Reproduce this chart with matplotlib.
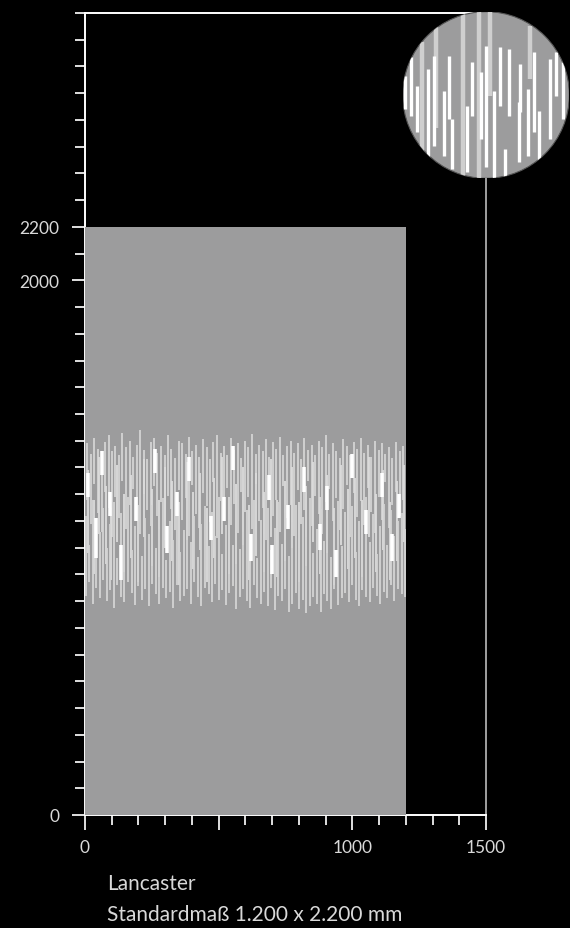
import matplotlib
matplotlib.use("Agg")
import matplotlib.pyplot as plt
from matplotlib.patches import Rectangle, Circle


# =========================
# DATA
# =========================
panel_width = 1200
panel_height = 2200

x_labels = {0: "0", 1000: "1000", 1500: "1500"}
y_labels = {0: "0", 2000: "2000", 2200: "2200"}

title = "Lancaster"
subtitle = "Standardmaß 1.200 x 2.200 mm"

# texture strokes, upper band (x, top, bottom)
up_x = [8, 22, 35, 47, 62, 74, 88, 101, 113, 128, 140, 155, 167, 180, 194, 206, 219, 233, 246, 258,
        271, 285, 298, 311, 323, 337, 350, 364, 376, 389, 402, 416, 428, 441, 455, 468, 480, 494, 507, 519,
        533, 546, 559, 572, 585, 598, 611, 625, 638, 650, 664, 677, 690, 703, 716, 729, 742, 756, 769, 782,
        795, 808, 821, 835, 848, 861, 874, 887, 900, 914, 927, 940, 953, 966, 979, 993, 1006, 1019, 1032, 1045,
        1058, 1071, 1085, 1098, 1111, 1124, 1137, 1150, 1163, 1177, 1190]
up_top = [1390, 1350, 1410, 1370, 1335, 1395, 1420, 1360, 1380, 1345, 1430, 1375, 1400, 1340, 1385, 1440, 1365, 1330, 1395, 1410,
          1355, 1380, 1345, 1420, 1370, 1335, 1400, 1390, 1350, 1415, 1360, 1385, 1340, 1405, 1375, 1330, 1395, 1420, 1355, 1380,
          1345, 1410, 1365, 1390, 1335, 1400, 1375, 1425, 1350, 1385, 1360, 1405, 1340, 1395, 1370, 1415, 1345, 1380, 1400, 1355,
          1390, 1330, 1410, 1365, 1385, 1345, 1400, 1375, 1420, 1350, 1390, 1360, 1335, 1405, 1380, 1345, 1395, 1370, 1410, 1355,
          1385, 1340, 1400, 1365, 1390, 1350, 1375, 1335, 1395, 1360, 1380]
up_bot = [1180, 1090, 1240, 1130, 1060, 1210, 1150, 1040, 1190, 1110, 1250, 1070, 1160, 1220, 1100, 1050, 1200, 1140, 1080, 1230,
          1120, 1170, 1030, 1195, 1145, 1065, 1215, 1105, 1185, 1045, 1235, 1125, 1075, 1205, 1155, 1095, 1245, 1035, 1175, 1115,
          1225, 1085, 1165, 1055, 1210, 1135, 1190, 1070, 1240, 1100, 1150, 1030, 1200, 1120, 1180, 1060, 1230, 1110, 1160, 1045,
          1215, 1090, 1140, 1250, 1080, 1195, 1125, 1050, 1170, 1220, 1100, 1185, 1065, 1145, 1235, 1040, 1205, 1115, 1175, 1085,
          1225, 1135, 1055, 1190, 1105, 1245, 1075, 1160, 1210, 1120, 1180]

# texture strokes, middle
mid_x = [10, 33, 52, 78, 99, 118, 145, 171, 198, 222, 249, 275, 301, 326, 353, 380, 405, 431, 458, 484,
         511, 537, 563, 590, 615, 641, 668, 694, 720, 747, 773, 799, 826, 852, 878, 905, 931, 957, 984, 1010,
         1036, 1063, 1089, 1115, 1142, 1168, 1193]
mid_top = [1290, 1180, 1340, 1230, 1150, 1310, 1200, 1270, 1160, 1330, 1220, 1180, 1300, 1250, 1170, 1320, 1210, 1280, 1150, 1260,
           1340, 1190, 1240, 1300, 1160, 1280, 1210, 1330, 1180, 1250, 1300, 1170, 1230, 1320, 1190, 1270, 1150, 1310, 1220, 1260,
           1180, 1340, 1200, 1290, 1170, 1250, 1310]
mid_bot = [980, 900, 1050, 940, 880, 1020, 910, 960, 870, 1040, 930, 890, 1000, 950, 860, 1030, 920, 990, 870, 960,
           1050, 900, 940, 1010, 880, 970, 910, 1040, 890, 950, 1000, 870, 930, 1020, 900, 980, 860, 1010, 920, 960,
           890, 1040, 910, 990, 880, 950, 1020]

# texture strokes, lower band
lo_x = [3, 15, 29, 41, 55, 68, 81, 95, 107, 121, 134, 147, 161, 174, 187, 200, 213, 226, 240, 252,
        265, 278, 292, 304, 317, 330, 344, 357, 370, 383, 396, 409, 422, 435, 448, 462, 474, 487, 501, 513,
        526, 540, 553, 566, 579, 592, 605, 618, 631, 644, 657, 671, 684, 697, 710, 723, 736, 749, 762, 775,
        789, 802, 815, 828, 841, 854, 867, 881, 894, 907, 920, 933, 946, 960, 973, 986, 999, 1012, 1025, 1038,
        1052, 1065, 1078, 1091, 1104, 1117, 1131, 1144, 1157, 1170, 1184, 1196]
lo_top = [1120, 1010, 1180, 980, 1060, 1150, 1000, 1090, 1170, 960, 1130, 1040, 1190, 990, 1080, 1140, 970, 1110, 1050, 1160,
          1000, 1070, 1185, 955, 1100, 1030, 1145, 985, 1065, 1175, 1020, 1120, 965, 1090, 1155, 1005, 1135, 1045, 1190, 975,
          1085, 1125, 1010, 1165, 995, 1060, 1140, 1035, 1180, 960, 1105, 1050, 1150, 990, 1075, 1170, 1015, 1130, 970, 1095,
          1160, 1000, 1115, 1040, 1185, 980, 1070, 1145, 1025, 1110, 965, 1090, 1175, 1005, 1135, 1050, 1155, 985, 1100, 1060,
          1190, 1020, 1125, 975, 1080, 1165, 1010, 1140, 1045, 1100, 1130, 1070]
lo_bot = [820, 870, 790, 850, 810, 880, 800, 840, 775, 860, 815, 795, 870, 830, 785, 855, 805, 845, 780, 865,
          825, 790, 850, 810, 835, 775, 860, 800, 820, 845, 790, 870, 815, 780, 850, 825, 795, 865, 805, 840,
          785, 830, 855, 770, 815, 845, 800, 775, 860, 810, 790, 835, 780, 850, 765, 820, 800, 845, 760, 790,
          830, 770, 805, 755, 780, 815, 790, 760, 825, 800, 770, 845, 785, 810, 830, 795, 860, 805, 780, 840,
          815, 795, 850, 820, 790, 835, 810, 860, 800, 845, 825, 815]

# bright strokes
hi_x = [12, 40, 62, 95, 135, 190, 260, 305, 345, 390, 470, 520, 555, 620, 690, 700, 760, 820, 880, 905, 940, 1000, 1050, 1110, 1150, 1175]
hi_top = [1280, 1110, 1360, 1210, 1010, 1190, 1370, 1080, 1210, 1340, 1120, 1190, 1380, 1050, 1270, 1010, 1160, 1300, 1090, 1230, 990, 1350, 1140, 1280, 1050, 1200]
hi_bot = [1190, 960, 1270, 1120, 880, 1100, 1280, 980, 1120, 1250, 1030, 1100, 1290, 950, 1180, 900, 1070, 1210, 990, 1140, 890, 1260, 1050, 1190, 950, 1110]

# magnified view (0..100 box): x, top, bottom
zoom_x = [1.6, 5.0, 8.4, 15.0, 18.6, 24.6, 27.6, 29.6, 38.6, 41.6, 47.0, 50.0, 54.6,
          58.2, 61.2, 64.0, 69.6, 70.6, 75.0, 79.0, 82.0, 88.2, 92.0, 96.2]
zoom_top = [61.6, 72.6, 55.6, 65.6, 73.6, 52.6, 73.6, 35.6, 43.6, 69.6, 63.6, 79.6, 52.6,
            78.6, 17.6, 77.6, 45.6, 68.6, 53.6, 75.6, 40.6, 71.6, 75.6, 69.6]
zoom_bot = [41.6, 37.6, 27.6, 11.6, 19.6, 13.6, 35.6, 5.6, 3.6, 37.6, 23.6, 6.6, 0.0,
            43.6, 0.0, 37.6, 9.6, 39.6, 13.6, 27.6, 9.6, 23.6, 49.6, 35.6]
zoom_gray_x = [11.6, 20.0, 36.2, 45.6, 52.6, 76.2]
zoom_gray_top = [81.6, 90.6, 100, 100, 100, 91.6]
zoom_gray_bot = [13.6, 30.0, 0, 0, 49.6, 59.6]


# =========================
# STYLE
# =========================
BG = "black"
PANEL = "#9c9c9d"
TXT = "#d9d9d9"
plt.rcParams["font.family"] = ["Lato", "DejaVu Sans"]

fig = plt.figure(figsize=(5.7, 9.29), dpi=100, facecolor=BG)
ax = fig.add_axes([85 / 570, 113 / 929, 401 / 570, 802 / 929])
ax.set_facecolor(BG)
ax.set_xlim(0, 1500)
ax.set_ylim(0, 3000)

for side in ["left", "top", "bottom"]:
    ax.spines[side].set_color("white")
    ax.spines[side].set_linewidth(1.4)
ax.spines["right"].set_color("#a0a0a0")
ax.spines["right"].set_linewidth(1.4)

ax.set_xticks(list(x_labels.keys()) + [500])
ax.set_xticklabels(list(x_labels.values()) + [""])
ax.set_xticks(range(0, 1501, 100), minor=True)
ax.set_yticks(list(y_labels.keys()))
ax.set_yticklabels(list(y_labels.values()))
ax.set_yticks(range(0, 3001, 100), minor=True)

ax.tick_params(axis="x", which="major", length=11, width=1.4, color="#e0e0e0",
               labelcolor=TXT, labelsize=12.5, pad=6)
ax.tick_params(axis="x", which="minor", length=7.5, width=1.4, color="#e0e0e0")
ax.tick_params(axis="y", which="major", length=9.5, width=1.4, color="#e0e0e0",
               labelcolor=TXT, labelsize=12.5, pad=9)
ax.tick_params(axis="y", which="minor", length=7.5, width=1.4, color="#e0e0e0")

# panel
ax.add_patch(Rectangle((0, 0), panel_width, panel_height, facecolor=PANEL,
                       edgecolor="none", zorder=3))

# texture
ax.vlines(up_x, up_bot, up_top, colors="#d4d4d4", linewidth=1.3, zorder=4)
ax.vlines(mid_x, mid_bot, mid_top, colors="#dcdcdc", linewidth=1.3, zorder=4)
ax.vlines(lo_x, lo_bot, lo_top, colors="#d4d4d4", linewidth=1.3, zorder=4)
ax.vlines(hi_x, hi_bot, hi_top, colors="white", linewidth=2.6, zorder=5)

# magnified circle
zax = fig.add_axes([402.7 / 570, (929 - 179.3) / 929, 166.6 / 570, 166.6 / 929])
zax.set_xlim(0, 100)
zax.set_ylim(0, 100)
zax.axis("off")
circ = Circle((50, 50), 50, facecolor=PANEL, edgecolor="#555555", linewidth=0.8,
              transform=zax.transData, zorder=1)
zax.add_patch(circ)
g = zax.vlines(zoom_gray_x, zoom_gray_bot, zoom_gray_top, colors="#cfcfcf", linewidth=3.2, zorder=2)
w = zax.vlines(zoom_x, zoom_bot, zoom_top, colors="white", linewidth=2.4, zorder=3)
g.set_clip_path(circ)
w.set_clip_path(circ)

# captions
fig.text(107 / 570, 1 - 884 / 929, title, color=TXT, fontsize=15, va="center", ha="left")
fig.text(107 / 570, 1 - 915 / 929, subtitle, color=TXT, fontsize=15, va="center", ha="left")

fig.savefig("out.png", dpi=100, facecolor=BG)
